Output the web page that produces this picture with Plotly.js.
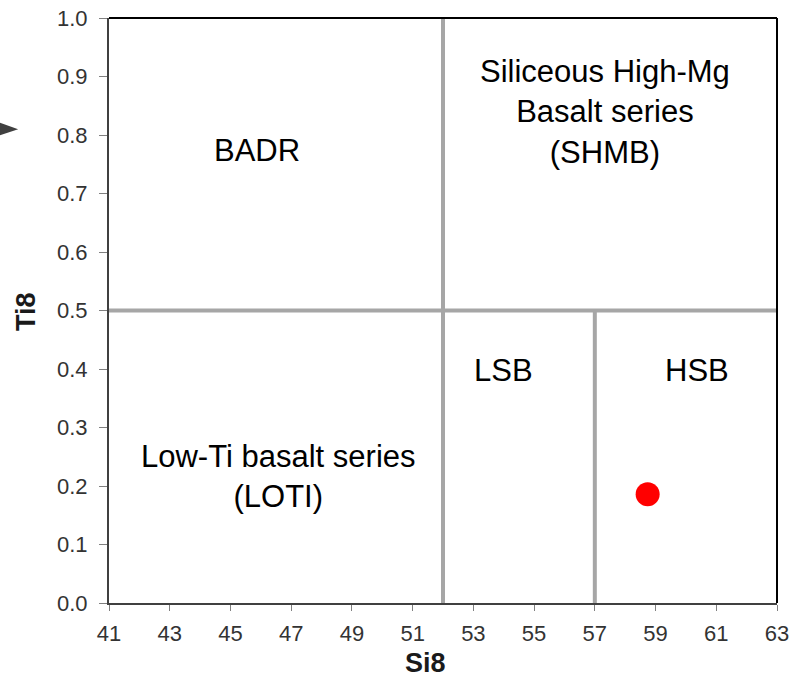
<!DOCTYPE html>
<html>
<head>
<meta charset="utf-8">
<script src="https://cdn.plot.ly/plotly-3.0.1.min.js"></script>
<style>html,body{margin:0;padding:0;background:#fff;}#chart{width:790px;height:679px;}</style>
</head>
<body>
<div id="chart"></div>
<script>
// Sample point
var sampleSi8 = [58.74];
var sampleTi8 = [0.186];

// Field boundaries (Si8 / Ti8)
var boundaryX = [[52, 52], [41, 63], [57, 57]];
var boundaryY = [[0, 1.0], [0.5, 0.5], [0, 0.5]];

// Field labels
var labelText = ["BADR", "Siliceous High-Mg<br>Basalt series<br>(SHMB)", "LSB", "HSB", "Low-Ti basalt series<br>(LOTI)"];
var labelX = [45.87, 57.33, 54.0, 60.38, 46.57];
var labelY = [0.774, 0.839, 0.397, 0.397, 0.217];

// Axis ticks
var xTicks = [41, 43, 45, 47, 49, 51, 53, 55, 57, 59, 61, 63];
var yTicks = [0, 0.1, 0.2, 0.3, 0.4, 0.5, 0.6, 0.7, 0.8, 0.9, 1.0];

var FONT = 'Arial, "Liberation Sans", sans-serif';

var traces = [];
for (var i = 0; i < boundaryX.length; i++) {
  traces.push({
    x: boundaryX[i], y: boundaryY[i], mode: 'lines', type: 'scatter',
    line: {color: '#a6a6a6', width: 4}, hoverinfo: 'skip', showlegend: false
  });
}
traces.push({
  x: sampleSi8, y: sampleTi8, mode: 'markers', type: 'scatter',
  marker: {color: '#ff0000', size: 24}, showlegend: false
});

var annotations = labelText.map(function (t, i) {
  return {x: labelX[i], y: labelY[i], xref: 'x', yref: 'y', text: t, showarrow: false,
    font: {family: FONT, size: 31, color: '#000'},
    align: 'center', xanchor: 'center', yanchor: 'middle'};
});
// Axis titles
annotations.push({x: (425 - 109) / 668, y: (603 - 663) / 585, xref: 'paper', yref: 'paper',
  text: '<b>Si8</b>', showarrow: false, xanchor: 'center', yanchor: 'middle',
  font: {family: FONT, size: 27, color: '#1a1a1a'}});
annotations.push({x: (26 - 109) / 668, y: (603 - 312) / 585, xref: 'paper', yref: 'paper',
  text: '<b>Ti8</b>', showarrow: false, xanchor: 'center', yanchor: 'middle', textangle: -90,
  font: {family: FONT, size: 27, color: '#1a1a1a'}});

var tickFont = {family: FONT, size: 22, color: '#333'};

var layout = {
  width: 790, height: 679,
  margin: {l: 109, r: 13, t: 18, b: 76},
  paper_bgcolor: '#fff', plot_bgcolor: '#fff',
  showlegend: false,
  xaxis: {
    range: [41, 63], tickvals: xTicks, ticktext: xTicks.map(String),
    showgrid: false, zeroline: false, showline: true, linecolor: '#404040', linewidth: 2,
    ticks: 'outside', ticklen: 6, tickcolor: '#808080', tickwidth: 1,
    ticklabelstandoff: 4,
    tickfont: tickFont
  },
  yaxis: {
    range: [0, 1.0], tickvals: yTicks, tickformat: '.1f',
    showgrid: false, zeroline: false, showline: true, linecolor: '#404040', linewidth: 2,
    ticks: 'outside', ticklen: 8, tickcolor: '#808080', tickwidth: 1,
    ticklabelstandoff: 7,
    tickfont: tickFont
  },
  shapes: [
    {type: 'line', xref: 'paper', yref: 'paper', x0: 0, x1: 1, y0: 1, y1: 1, line: {color: '#000', width: 2}},
    {type: 'line', xref: 'paper', yref: 'paper', x0: 1, x1: 1, y0: 0, y1: 1, line: {color: '#000', width: 2}},
    {type: 'path', xref: 'paper', yref: 'paper',
     path: 'M -0.175 0.826 L -0.136 0.810 L -0.175 0.795 Z',
     fillcolor: '#404040', line: {width: 0}}
  ],
  annotations: annotations
};

Plotly.newPlot('chart', traces, layout, {displayModeBar: false, staticPlot: true});
</script>
</body>
</html>
